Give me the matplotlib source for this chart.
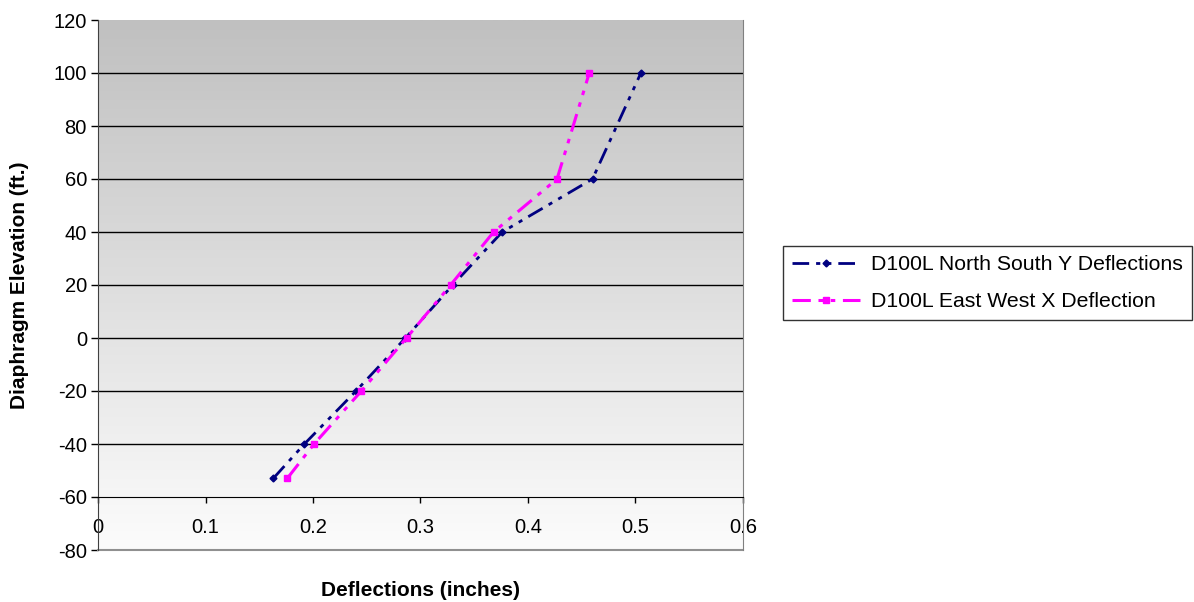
import numpy as np
import matplotlib
matplotlib.use("Agg")
import matplotlib.pyplot as plt

plt.rcParams['font.family'] = ['Liberation Sans', 'DejaVu Sans']
plt.rcParams['axes.unicode_minus'] = False

# Diaphragm elevations (ft) and lateral deflections (in)
elev_ns = [-53, -40, -20, 0, 20, 40, 60, 100]
defl_ns = [0.163, 0.192, 0.240, 0.286, 0.330, 0.376, 0.460, 0.505]

elev_ew = [-53, -40, -20, 0, 20, 40, 60, 100]
defl_ew = [0.176, 0.201, 0.245, 0.287, 0.328, 0.368, 0.427, 0.457]

x_ticks = [0, 0.1, 0.2, 0.3, 0.4, 0.5, 0.6]
y_ticks = list(range(-80, 121, 20))

fig = plt.figure(figsize=(11.94, 6.02), dpi=100)
ax = fig.add_axes([98 / 1194, 1 - 550 / 602, (743 - 98) / 1194, (550 - 20) / 602])
ax.set_xlim(0, 0.6)
ax.set_ylim(-80, 120)

# gray-to-white vertical gradient behind the plot
grad = np.linspace(0, 1, 256).reshape(-1, 1)
ax.imshow(grad, extent=[0, 0.6, -80, 120], aspect='auto', origin='upper',
          cmap=matplotlib.colors.LinearSegmentedColormap.from_list(
              'bg', ['#c0c0c0', '#fcfcfc']), zorder=0)

# horizontal gridlines
for yv in range(-40, 101, 20):
    ax.axhline(yv, color='black', lw=1.0, zorder=1)

dash = (6, 2.5, 1.5, 2.5, 1.5, 2.5)
ax.plot(defl_ns, elev_ns, color='#000080', lw=2, dashes=dash, marker='D',
        markersize=3.5, label='D100L North South Y Deflections', zorder=3)
ax.plot(defl_ew, elev_ew, color='#ff00ff', lw=2.2, dashes=dash, marker='s',
        markersize=4, label='D100L East West X Deflection', zorder=3)

# spines: x axis crosses at -60
ax.spines['bottom'].set_position(('data', -60))
ax.spines['bottom'].set_color('black')
ax.spines['left'].set_color('#404040')
ax.spines['top'].set_visible(False)
ax.spines['right'].set_color('#808080')
ax.plot([0, 0.6], [-80, -80], color='#909090', lw=1.5, clip_on=False, zorder=2)

ax.set_xticks(x_ticks)
ax.set_xticklabels(['0', '0.1', '0.2', '0.3', '0.4', '0.5', '0.6'])
ax.set_yticks(y_ticks)
ax.tick_params(axis='x', direction='out', length=4, width=1, pad=11, labelsize=14.5)
ax.tick_params(axis='y', direction='out', length=5, width=1, pad=3, labelsize=14.5)

fig.text(420 / 1194, 1 - 590 / 602, 'Deflections (inches)', ha='center', va='center',
         fontsize=15, fontweight='bold')
fig.text(20 / 1194, 1 - 285 / 602, 'Diaphragm Elevation (ft.)', ha='center', va='center',
         rotation=90, fontsize=15, fontweight='bold')

leg = fig.legend(loc='center left', bbox_to_anchor=(783 / 1194, 1 - 283 / 602),
                 fontsize=15.3, frameon=True, fancybox=False, edgecolor='black',
                 handlelength=3.2, handletextpad=0.55, borderpad=0.4,
                 labelspacing=0.85, borderaxespad=0)
leg.get_frame().set_linewidth(1.0)

fig.savefig('out.png', dpi=100)
